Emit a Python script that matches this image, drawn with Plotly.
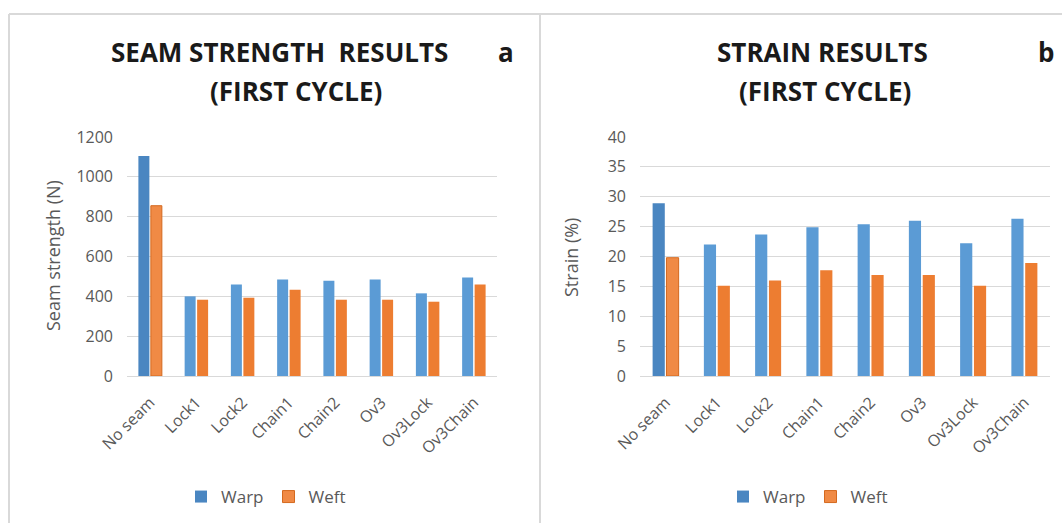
import plotly.graph_objects as go

categories = ["No seam", "Lock1", "Lock2", "Chain1", "Chain2", "Ov3", "Ov3Lock", "Ov3Chain"]
strength_warp = [1105, 400, 460, 485, 478, 485, 415, 495]
strength_weft = [855, 383, 393, 433, 383, 383, 373, 460]
strain_warp = [28.9, 22.0, 23.7, 24.9, 25.4, 26.0, 22.2, 26.3]
strain_weft = [19.8, 15.1, 16.0, 17.7, 16.9, 16.9, 15.1, 18.9]
strength_ticks = [0, 200, 400, 600, 800, 1000, 1200]
strain_ticks = [0, 5, 10, 15, 20, 25, 30, 35, 40]

W, H = 1062, 523
BLUE, ORANGE = "#5b9bd5", "#ed7d31"
BLUE_SEL, ORANGE_SEL, ORANGE_SEL_LINE = "#4a86c1", "#f08a45", "#d4691f"
FONT = "Open Sans"
TICKC = "#595959"
GRID = "#d9d9d9"


def px(x):
    return x / W


def py(y):
    return 1 - y / H


def colors(base, sel):
    return [sel] + [base] * (len(categories) - 1)


fig = go.Figure()
fig.add_trace(go.Bar(x=categories, y=strength_warp, name="Warp", xaxis="x", yaxis="y",
                     marker=dict(color=colors(BLUE, BLUE_SEL), line=dict(width=0)),
                     legend="legend"))
fig.add_trace(go.Bar(x=categories, y=strength_weft, name="Weft", xaxis="x", yaxis="y",
                     marker=dict(color=colors(ORANGE, ORANGE_SEL),
                                 line=dict(width=[1] + [0] * 7,
                                           color=colors(ORANGE, ORANGE_SEL_LINE))),
                     legend="legend"))
fig.add_trace(go.Bar(x=categories, y=strain_warp, name="Warp", xaxis="x2", yaxis="y2",
                     marker=dict(color=colors(BLUE, BLUE_SEL), line=dict(width=0)),
                     legend="legend2"))
fig.add_trace(go.Bar(x=categories, y=strain_weft, name="Weft", xaxis="x2", yaxis="y2",
                     marker=dict(color=colors(ORANGE, ORANGE_SEL),
                                 line=dict(width=[1] + [0] * 7,
                                           color=colors(ORANGE, ORANGE_SEL_LINE))),
                     legend="legend2"))

ydom = [py(376), py(137)]
xcommon = dict(tickangle=-45, tickfont=dict(family=FONT, size=16, color=TICKC),
               showgrid=False, showline=False, ticks="", zeroline=False, fixedrange=True,
               automargin=False, ticklabelstandoff=13)
ycommon = dict(tickfont=dict(family=FONT, size=16, color=TICKC), showgrid=True,
               gridcolor=GRID, gridwidth=1, zeroline=True, zerolinecolor=GRID,
               zerolinewidth=1, showline=False, ticks="", ticklabelstandoff=13,
               automargin=False)

fig.update_layout(
    width=W, height=H,
    autosize=False,
    margin=dict(l=0, r=0, t=0, b=0, pad=0, autoexpand=False),
    paper_bgcolor="white", plot_bgcolor="white",
    barmode="group", bargap=0.46, bargroupgap=0.12,
    xaxis=dict(domain=[px(127), px(497)], anchor="y", **xcommon),
    yaxis=dict(domain=ydom, anchor="x", range=[0, 1200], tickvals=strength_ticks, **ycommon),
    xaxis2=dict(domain=[px(640), px(1050)], anchor="y2", **xcommon),
    yaxis2=dict(domain=ydom, anchor="x2", range=[0, 40], tickvals=strain_ticks, **ycommon),
    legend=dict(orientation="h", x=px(266), xanchor="center", y=py(497), yanchor="middle",
                font=dict(family=FONT, size=17, color=TICKC), itemwidth=30,
                bgcolor="rgba(0,0,0,0)"),
    legend2=dict(orientation="h", x=px(808), xanchor="center", y=py(497), yanchor="middle",
                 font=dict(family=FONT, size=17, color=TICKC), itemwidth=30,
                 bgcolor="rgba(0,0,0,0)"),
    showlegend=True,
)

tfont = dict(family=FONT, size=26, color="#1a1a1a")
ann = [
    dict(text="<b>SEAM STRENGTH  RESULTS</b>", x=px(279), y=py(52)),
    dict(text="<b>a</b>", x=px(506), y=py(52)),
    dict(text="<b>(FIRST CYCLE)</b>", x=px(296), y=py(91)),
    dict(text="<b>STRAIN RESULTS</b>", x=px(822), y=py(52)),
    dict(text="<b>b</b>", x=px(1046), y=py(52)),
    dict(text="<b>(FIRST CYCLE)</b>", x=px(825), y=py(91)),
]
for a in ann:
    fig.add_annotation(xref="paper", yref="paper", xanchor="center", yanchor="middle",
                       showarrow=False, font=tfont, **a)

afont = dict(family=FONT, size=18, color=TICKC)
fig.add_annotation(text="Seam strength (N)", x=px(53), y=py(256), xref="paper", yref="paper",
                   textangle=-90, showarrow=False, font=afont, xanchor="center", yanchor="middle")
fig.add_annotation(text="Strain (%)", x=px(571), y=py(258), xref="paper", yref="paper",
                   textangle=-90, showarrow=False, font=afont, xanchor="center", yanchor="middle")

border = dict(color="#d9d9d9", width=2)
fig.add_shape(type="line", xref="paper", yref="paper", x0=px(9), x1=1, y0=py(14), y1=py(14), line=border)
fig.add_shape(type="line", xref="paper", yref="paper", x0=px(9), x1=px(9), y0=py(14), y1=0, line=border)
fig.add_shape(type="line", xref="paper", yref="paper", x0=px(540), x1=px(540), y0=py(14), y1=0, line=border)

fig.write_html("out.html", config={"displayModeBar": False},
               post_script="document.body.style.margin='0';document.body.style.overflow='hidden';")
